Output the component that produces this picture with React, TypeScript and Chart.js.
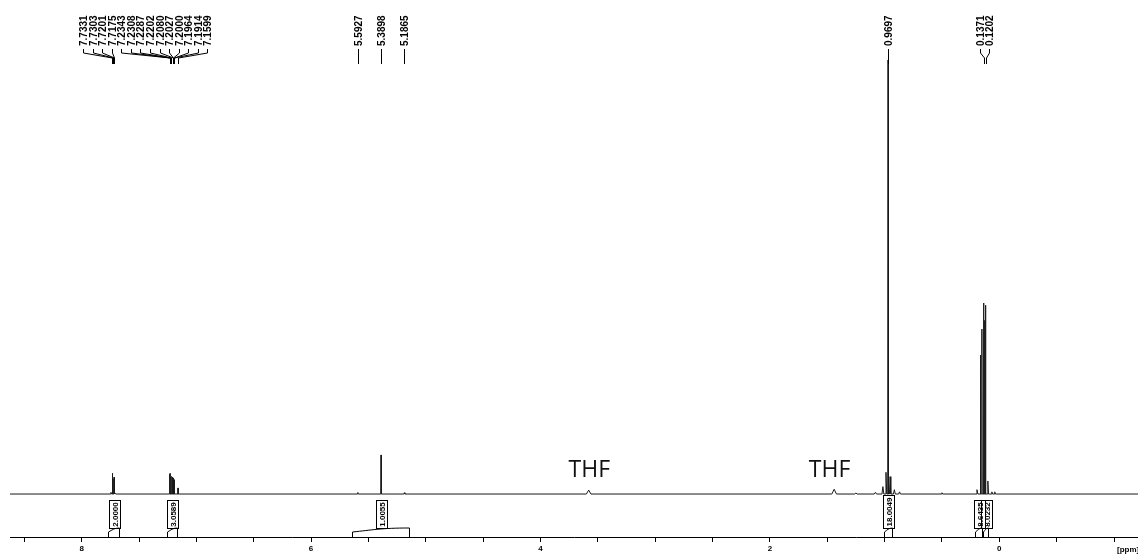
import React, { useEffect, useRef } from 'react';
import { Chart, registerables } from 'chart.js';

Chart.register(...registerables);

// ---- axis range (ppm, reversed NMR axis) ----
const xLeftPpm = 8.625;
const xRightPpm = -1.209;
const yMin = -9.9;
const yMax = 113.8;

const tickValues = [-1, -0.5, 0, 0.5, 1, 1.5, 2, 2.5, 3, 3.5, 4, 4.5, 5, 5.5, 6, 6.5, 7, 7.5, 8, 8.5];
const tickLabels = ['', '', '0', '', '', '', '2', '', '', '', '4', '', '', '', '6', '', '', '', '8', ''];

// ---- spectrum lines: position (ppm), relative intensity, half line width (ppm) ----
const peakPpm = [
  7.745, 7.7331, 7.7303, 7.7201, 7.7175, 7.71,
  7.2343, 7.2308, 7.2287, 7.2202, 7.2080, 7.2027, 7.2000, 7.1964, 7.1914, 7.1599,
  5.5927, 5.3898, 5.1865,
  3.58, 1.44, 1.25, 1.08, 1.015, 0.988, 0.9697, 0.952, 0.915, 0.87, 0.50,
  0.195, 0.165, 0.152, 0.1371, 0.1285, 0.1202, 0.100, 0.065, 0.04,
];
const peakHeight = [
  0.4, 4.3, 4.8, 3.5, 3.9, 0.4,
  4.6, 4.2, 4.8, 4.1, 3.9, 3.4, 3.7, 3.0, 3.3, 1.4,
  0.35, 9.0, 0.3,
  0.9, 1.1, 0.25, 0.4, 1.7, 5.0, 100, 4.0, 1.0, 0.5, 0.3,
  1.0, 32, 38, 44, 40, 43.5, 3.0, 0.5, 0.5,
];
const peakHalfWidth = [
  0.006, 0.0012, 0.0012, 0.0012, 0.0012, 0.006,
  0.001, 0.001, 0.001, 0.001, 0.001, 0.001, 0.001, 0.001, 0.001, 0.001,
  0.004, 0.002, 0.004,
  0.02, 0.02, 0.01, 0.01, 0.008, 0.006, 0.0025, 0.006, 0.008, 0.008, 0.006,
  0.008, 0.002, 0.002, 0.002, 0.002, 0.002, 0.006, 0.006, 0.006,
];

// ---- picked peak labels (ppm) ----
const labelPpm = [
  7.7331, 7.7303, 7.7201, 7.7175, 7.2343, 7.2308, 7.2287, 7.2202, 7.2080, 7.2027,
  7.2000, 7.1964, 7.1914, 7.1599, 5.5927, 5.3898, 5.1865, 0.9697, 0.1371, 0.1202,
];

// ---- integrals ----
const integralFrom = [7.771, 7.259, 5.646, 1.005, 0.21, 0.14];
const integralTo = [7.675, 7.171, 5.146, 0.938, 0.15, 0.10];
const integralValue = ['2.0000', '3.0589', '1.0055', '18.0049', '8.6435', '8.0232'];

// ---- annotations ----
const annotationText = ['THF', 'THF'];
const annotationPpm = [3.575, 1.48];

const BOLD = "'Liberation Sans', Arial, sans-serif";

function buildSpectrum() {
  const pts: { x: number; y: number }[] = [];
  pts.push({ x: xLeftPpm, y: 0 });
  for (let i = 0; i < peakPpm.length; i++) {
    const p = peakPpm[i];
    const w = peakHalfWidth[i];
    pts.push({ x: p + w, y: 0 });
    pts.push({ x: p, y: peakHeight[i] });
    pts.push({ x: p - w, y: 0 });
  }
  pts.push({ x: xRightPpm, y: 0 });
  pts.sort((a, b) => b.x - a.x);
  return pts;
}

function spreadLabels(px: number[], gap: number): number[] {
  type Cl = { s: number; e: number };
  let cl: Cl[] = px.map((_, i) => ({ s: i, e: i }));
  const center = (c: Cl) => (px[c.s] + px[c.e]) / 2;
  let merged = true;
  while (merged) {
    merged = false;
    for (let k = 0; k < cl.length - 1; k++) {
      const a = cl[k];
      const b = cl[k + 1];
      const aR = center(a) + ((a.e - a.s) / 2) * gap;
      const bL = center(b) - ((b.e - b.s) / 2) * gap;
      if (bL - aR < gap) {
        cl.splice(k, 2, { s: a.s, e: b.e });
        merged = true;
        break;
      }
    }
  }
  const out: number[] = new Array(px.length);
  for (const c of cl) {
    const n = c.e - c.s + 1;
    const c0 = center(c);
    for (let i = 0; i < n; i++) out[c.s + i] = c0 + (i - (n - 1) / 2) * gap;
  }
  return out;
}

const decorPlugin = {
  id: 'nmrDecor',
  afterDraw(chart: any) {
    const ctx: CanvasRenderingContext2D = chart.ctx;
    const xs = chart.scales.x;
    ctx.save();
    ctx.strokeStyle = '#000';
    ctx.fillStyle = '#000';
    ctx.lineWidth = 1;

    // peak labels
    const order = labelPpm
      .map((p, i) => ({ p, i, px: xs.getPixelForValue(p) }))
      .sort((a, b) => a.px - b.px);
    const pos = spreadLabels(order.map((o) => o.px), 9.55);
    ctx.font = `bold 10px ${BOLD}`;
    order.forEach((o, k) => {
      const lx = Math.round(pos[k]) + 0.5;
      const px = Math.round(o.px) + 0.5;
      ctx.beginPath();
      ctx.moveTo(lx, 49);
      ctx.lineTo(lx, 53);
      ctx.lineTo(px, 58);
      ctx.lineTo(px, 64);
      ctx.stroke();
      ctx.save();
      ctx.translate(lx + 0.5, 46);
      ctx.rotate(-Math.PI / 2);
      ctx.textAlign = 'left';
      ctx.textBaseline = 'middle';
      ctx.fillText(o.p.toFixed(4), 0, 0);
      ctx.restore();
    });

    // integrals
    const axisY = chart.chartArea.bottom;
    ctx.font = `bold 8px ${BOLD}`;
    for (let i = 0; i < integralFrom.length; i++) {
      const x1 = Math.round(xs.getPixelForValue(integralFrom[i])) + 0.5;
      const x2 = Math.round(xs.getPixelForValue(integralTo[i])) + 0.5;
      const w = x2 - x1;
      ctx.beginPath();
      ctx.moveTo(x1, axisY);
      ctx.lineTo(x1, 532);
      ctx.bezierCurveTo(x1 + w * 0.35, 530, x1 + w * 0.5, 528, x2, 528);
      ctx.lineTo(x2, axisY);
      ctx.stroke();
      const tw = ctx.measureText(integralValue[i]).width;
      const bh = Math.round(tw + 4);
      const cx = (x1 + x2) / 2;
      const bx = Math.round(cx - 5.5) + 0.5;
      const bottom = 528.5;
      ctx.strokeRect(bx, bottom - bh, 11, bh);
      ctx.save();
      ctx.translate(bx + 5.5, bottom - bh / 2);
      ctx.rotate(-Math.PI / 2);
      ctx.textAlign = 'center';
      ctx.textBaseline = 'middle';
      ctx.fillText(integralValue[i], 0, 0.5);
      ctx.restore();
    }

    // THF annotations
    ctx.font = "23px 'Open Sans', sans-serif";
    ctx.textAlign = 'center';
    ctx.textBaseline = 'alphabetic';
    ctx.fillStyle = '#111';
    for (let i = 0; i < annotationText.length; i++) {
      ctx.fillText(annotationText[i], xs.getPixelForValue(annotationPpm[i]), 477);
    }

    // unit label
    ctx.fillStyle = '#000';
    ctx.font = `bold 8px ${BOLD}`;
    ctx.textAlign = 'left';
    ctx.textBaseline = 'middle';
    ctx.fillText('[ppm]', 1117, 550);
    ctx.restore();
  },
};

export default function App() {
  const ref = useRef<HTMLCanvasElement>(null);
  useEffect(() => {
    document.body.style.margin = '0';
    const chart = new Chart(ref.current as HTMLCanvasElement, {
      type: 'line',
      data: {
        datasets: [
          {
            data: buildSpectrum(),
            borderColor: '#1a1a1a',
            borderWidth: 1,
            pointRadius: 0,
            tension: 0,
            fill: false,
          },
        ],
      },
      options: {
        animation: false,
        responsive: false,
        events: [],
        layout: { padding: { left: 10, right: 0, top: 0, bottom: 0 } },
        plugins: { legend: { display: false }, tooltip: { enabled: false } },
        scales: {
          x: {
            type: 'linear',
            reverse: true,
            min: xRightPpm,
            max: xLeftPpm,
            afterBuildTicks: (s: any) => {
              s.ticks = tickValues.map((v) => ({ value: v }));
            },
            afterFit: (s: any) => {
              s.height = 22;
            },
            ticks: {
              autoSkip: false,
              maxRotation: 0,
              padding: 2,
              color: '#000',
              font: { family: BOLD, size: 8, weight: 'bold' },
              callback: (v: any) => {
                const i = tickValues.findIndex((t) => Math.abs(t - Number(v)) < 1e-9);
                return i >= 0 ? tickLabels[i] : '';
              },
            },
            grid: { drawOnChartArea: false, drawTicks: true, tickLength: 5, color: '#000' },
            border: { display: true, color: '#000', width: 1 },
          },
          y: { display: false, min: yMin, max: yMax },
        },
      },
      plugins: [decorPlugin],
    } as any);
    return () => chart.destroy();
  }, []);
  return (
    <div style={{ position: 'absolute', left: 0, top: 0, width: 1138, height: 559, background: '#fff' }}>
      <canvas ref={ref} width={1138} height={559} style={{ display: 'block', width: 1138, height: 559 }} />
    </div>
  );
}
